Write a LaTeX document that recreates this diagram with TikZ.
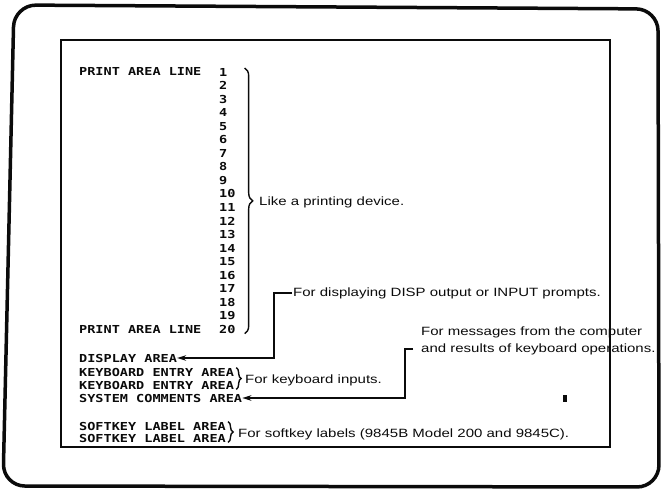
\documentclass[tikz,border=0pt]{standalone}
\usepackage{fontspec}
\usepackage{xcolor}
\usepackage{tikz}
\usetikzlibrary{positioning,arrows.meta,decorations.pathreplacing}
\newfontfamily\crtfont[FakeStretch=1.23]{DejaVu Sans Mono}
\newfontfamily\notefont[FakeStretch=1.25]{Liberation Sans}
\definecolor{ink}{HTML}{0b0b0b}

\begin{document}
\begin{tikzpicture}[x=1pt,y=-1pt,
  crt/.style={font=\crtfont\bfseries\fontsize{11}{13.53}\selectfont,text=ink,inner sep=0pt,anchor=base west},
  note/.style={font=\notefont\fontsize{12}{17}\selectfont,text=ink,inner sep=0pt,anchor=base west},
  brc/.style={decorate,decoration={brace,amplitude=#1},line width=1.4pt,draw=ink},
  brc/.default=5pt,
  arr/.style={-{Stealth[length=9pt,width=5.5pt]},line width=1.8pt,draw=ink},
  cursor/.style={fill=ink,minimum width=4pt,minimum height=7pt,inner sep=0pt}]
  \useasboundingbox (0,0) rectangle (661,489);
  % monitor and screen
  \draw[ink,line width=3.5pt,rounded corners=22pt] (14,5) -- (658,9) -- (659,487) -- (3,486) -- cycle;
  \draw[ink,line width=1.5pt] (61,40) rectangle (610,447);

  \node[crt] (pl1) at (79,76) {PRINT AREA LINE};
  \node[crt,anchor=north west,align=left] (nums) at (219,68) {1\\2\\3\\4\\5\\6\\7\\8\\9\\10\\11\\12\\13\\14\\15\\16\\17\\18\\19\\20};
  \node[crt] (pl20) at (79,333) {PRINT AREA LINE};
  \node[crt] (disp) at (79,362) {DISPLAY AREA};
  \node[crt] (kb1) at (79,376) {KEYBOARD ENTRY AREA};
  \node[crt] (kb2) at (79,389) {KEYBOARD ENTRY AREA};
  \node[crt] (sys) at (79,402) {SYSTEM COMMENTS AREA};
  \node[crt] (sk1) at (79,430) {SOFTKEY LABEL AREA};
  \node[crt] (sk2) at (79,442) {SOFTKEY LABEL AREA};
  \node[cursor] (cur) at (565,398) {};

  \node[note] (like) at (259,206) {Like a printing device.};
  \node[note] (dispnote) at (293,296) {For displaying DISP output or INPUT prompts.};
  \node[note] (msg1) at (421,335) {For messages from the computer};
  \node[note] (msg2) at ([yshift=-17pt]msg1.base west) {and results of keyboard operations.};
  \node[note] (kbnote) at (245,383) {For keyboard inputs.};
  \node[note] (sknote) at (238,437) {For softkey labels (9845B Model 200 and 9845C).};

  \draw[brc=8pt] ([xshift=9pt]nums.north east) -- ([xshift=9pt]nums.south east);
  \draw[brc] ([xshift=2pt]kb1.north east) -- ([xshift=2pt]kb2.south east);
  \draw[brc] ([xshift=2pt]sk1.north east) -- ([xshift=2pt]sk2.south east);
  \draw[arr] ([xshift=-1pt]dispnote.west) -- ++(-18,0) |- (disp.east);
  \draw[arr] ([xshift=-8pt]msg2.west) -- ++(-8,0) |- (sys.east);
\end{tikzpicture}
\end{document}
